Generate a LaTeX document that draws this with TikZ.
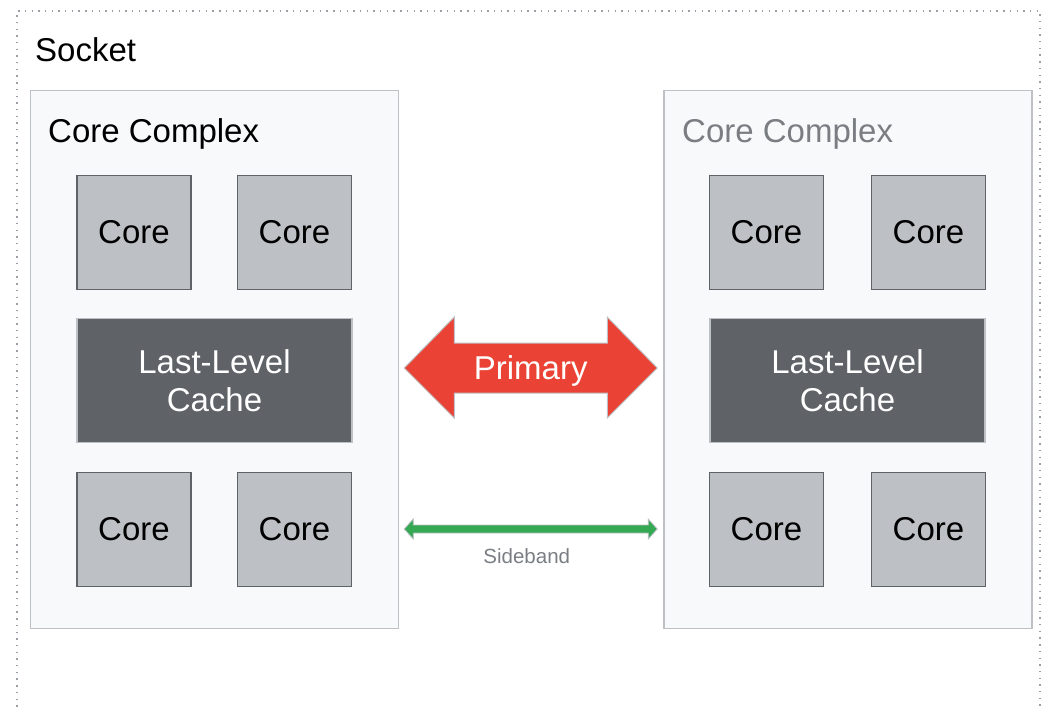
\documentclass[tikz,border=0pt]{standalone}
\usepackage{fontspec}
\setmainfont{Liberation Sans}
\usetikzlibrary{calc}

\definecolor{panelfill}{HTML}{F8F9FA}
\definecolor{panelline}{HTML}{BDC1C6}
\definecolor{corefill}{HTML}{BDC1C6}
\definecolor{darkgray}{HTML}{5F6368}
\definecolor{labelgray}{HTML}{7A7E83}
\definecolor{framedots}{HTML}{9AA0A6}
\definecolor{primaryred}{HTML}{EA4335}
\definecolor{sidegreen}{HTML}{34A853}

\tikzset{
  bigtext/.style={font=\fontsize{33}{38}\selectfont},
  complexbox/.style={draw=panelline, line width=1.5pt, fill=panelfill,
    minimum width=368pt, minimum height=538pt, inner sep=0pt},
  corebox/.style={draw=darkgray, line width=1.6pt, fill=corefill,
    minimum width=114pt, minimum height=114pt, inner sep=0pt, bigtext},
  cachebox/.style={draw=panelline, line width=1.5pt, fill=darkgray,
    minimum width=275pt, minimum height=124pt, inner sep=0pt, bigtext,
    text=white, align=center},
  linkoutline/.style={draw=panelline, line width=1pt, line join=miter},
}

\begin{document}
\begin{tikzpicture}[x=1pt, y=-1pt]
\useasboundingbox (0,0) rectangle (1045,710);

% socket outline (open at the bottom edge)
\begin{scope}
  \clip (0,0) rectangle (1045,710);
  \draw[framedots, line width=1.3pt, dash pattern=on 1.4pt off 5.3pt]
    (17,720) -- (17,11) -- (1040,11) -- (1040,720);
\end{scope}
\node[bigtext, anchor=base west, inner sep=0pt] (socketlbl) at (35,61) {Socket};

% left core complex
\node[complexbox] (ccl) at (214.5,359.5) {};
\node[bigtext, anchor=base west, inner sep=0pt] (ccltitle) at (48,142) {Core Complex};
\node[corebox] (cl1) at (134,232.5) {Core};
\node[corebox] (cl2) at (294.5,232.5) {Core};
\node[cachebox] (llcl) at (214.5,380.5) {Last-Level\\Cache};
\node[corebox] (cl3) at (134,529.5) {Core};
\node[corebox] (cl4) at (294.5,529.5) {Core};

% right core complex
\node[complexbox] (ccr) at (848,359.5) {};
\node[bigtext, anchor=base west, inner sep=0pt, text=labelgray] (ccrtitle) at (682,142) {Core Complex};
\node[corebox] (cr1) at (766.5,232.5) {Core};
\node[corebox] (cr2) at (928.5,232.5) {Core};
\node[cachebox] (llcr) at (847.5,380.5) {Last-Level\\Cache};
\node[corebox] (cr3) at (766.5,529.5) {Core};
\node[corebox] (cr4) at (928.5,529.5) {Core};

% end points of the links, just outside the two complexes
\coordinate (pl) at ($(ccl.east)+(5,8.5)$);
\coordinate (pr) at ($(ccr.west)+(-6,8.5)$);
\coordinate (sl) at ($(ccl.east)+(5,169.5)$);
\coordinate (sr) at ($(ccr.west)+(-6,169.5)$);

% primary link: wide double-headed arrow
\filldraw[linkoutline, fill=primaryred]
  (pl) -- ($(pl)+(50,-51)$) -- ($(pl)+(50,-25)$) -- ($(pr)+(-50,-25)$)
  -- ($(pr)+(-50,-51)$) -- (pr) -- ($(pr)+(-50,50)$) -- ($(pr)+(-50,25)$)
  -- ($(pl)+(50,25)$) -- ($(pl)+(50,50)$) -- cycle;
\node[bigtext, text=white, inner sep=0pt] (primlbl) at ($($(pl)!0.5!(pr)$)+(0,3)$) {Primary};

% sideband link: thin double-headed arrow
\filldraw[linkoutline, line width=0.8pt, fill=sidegreen]
  (sl) -- ($(sl)+(9,-10)$) -- ($(sl)+(9,-4)$) -- ($(sr)+(-9,-4)$)
  -- ($(sr)+(-9,-10)$) -- (sr) -- ($(sr)+(-9,10)$) -- ($(sr)+(-9,4)$)
  -- ($(sl)+(9,4)$) -- ($(sl)+(9,10)$) -- cycle;
\node[font=\fontsize{20.5}{24}\selectfont, text=labelgray, inner sep=0pt,
  anchor=base] (sidelbl) at ($($(sl)!0.5!(sr)$)+(-4,34)$) {Sideband};
\end{tikzpicture}
\end{document}
